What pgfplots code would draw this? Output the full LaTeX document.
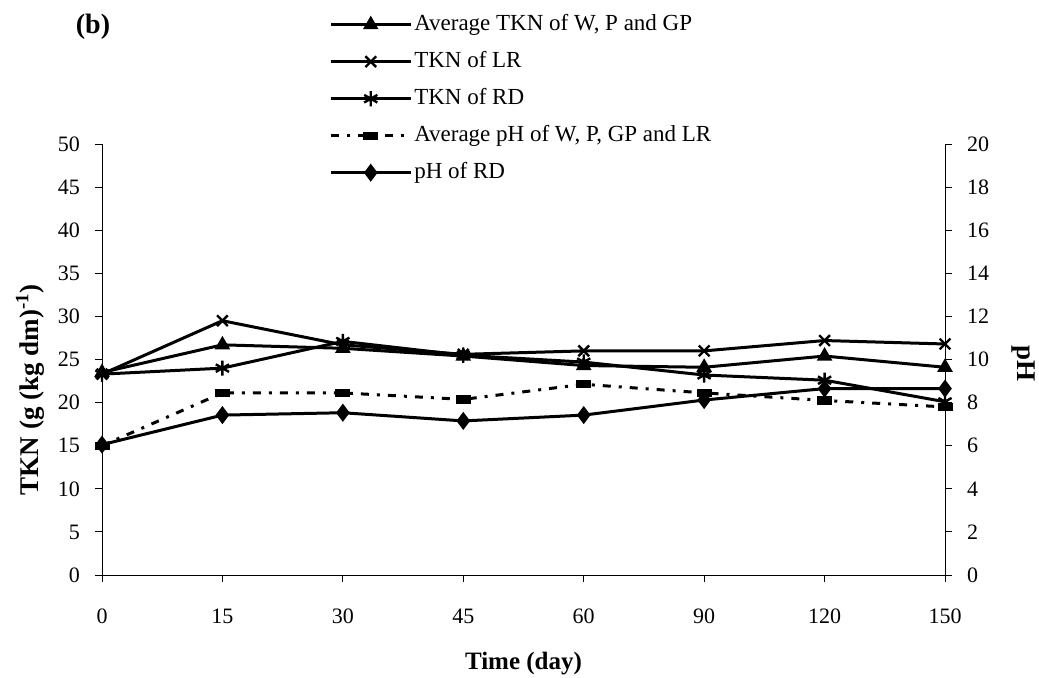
\documentclass[border=0pt]{standalone}
\usepackage{fontspec}
\setmainfont{Liberation Serif}
\usepackage{pgfplots}
\pgfplotsset{compat=1.18}
\pgfplotstableread{
x tkn lr rd phavg phrd
0 23.5 23.3 23.3 6.00 6.05
1 26.7 29.5 24.0 8.45 7.42
2 26.3 26.7 27.1 8.45 7.53
3 25.4 25.6 25.5 8.15 7.15
4 24.3 26.0 24.7 8.85 7.42
5 24.1 26.0 23.2 8.45 8.12
6 25.4 27.2 22.6 8.10 8.65
7 24.1 26.8 20.1 7.80 8.65
}\datatable
\begin{document}
\begin{tikzpicture}[font=\fontsize{11}{13}\selectfont]
\path[use as bounding box] (0,0) rectangle (519.5pt,338.5pt);
\pgfplotsset{
  common/.style={
    at={(51pt,51pt)}, anchor=south west,
    scale only axis, width=421.5pt, height=215.5pt,
    xmin=0, xmax=7, clip=false,
    tick align=outside, major tick length=3.5pt,
    axis line style={-, line width=0.5pt},
    tick style={line width=0.5pt, black},
    /pgf/number format/assume math mode=true,
  },
  lineA/.style={black, line width=1.5pt, mark=triangle*, mark size=3pt, mark options={solid}},
  lineB/.style={black, line width=1.5pt, mark=x, mark size=3.8pt, mark options={solid, line width=1.2pt}},
  lineC/.style={black, line width=1.5pt, mark=asterisk, mark size=3.8pt, mark options={solid, line width=1.2pt}},
  lineD/.style={black, line width=1.5pt, dash pattern=on 4pt off 4pt on 1.5pt off 4pt, mark=square*, mark size=3pt, mark options={solid, yscale=0.45}},
  lineE/.style={black, line width=1.5pt, mark=diamond*, mark size=3.3pt, mark options={solid}},
  legend image code/.code={\draw[mark repeat=2, mark phase=2, #1] plot coordinates {(0pt,0pt) (20pt,0pt) (40pt,0pt)};},
}
\begin{axis}[common,
  axis x line*=bottom, axis y line*=left,
  ymin=0, ymax=50, ytick={0,5,...,50},
  xtick={0,...,7}, xticklabels={0,15,30,45,60,90,120,150},
  xticklabel style={yshift=-10pt},
  yticklabel style={xshift=-4pt},
  xlabel={\textbf{Time (day)}},
  xlabel style={at={(axis description cs:0.5,0)}, anchor=base, yshift=-47pt, font=\fontsize{12.5}{14}\selectfont},
  ylabel={\textbf{TKN (g (kg dm)\textsuperscript{-1})}},
  ylabel style={at={(axis description cs:-0.085,0.43)}, anchor=center, rotate=0, font=\fontsize{13.5}{15}\selectfont},
]
\addplot[lineA] table[x=x, y=tkn] {\datatable};
\addplot[lineB] table[x=x, y=lr] {\datatable};
\addplot[lineC] table[x=x, y=rd] {\datatable};
\end{axis}
\begin{axis}[common,
  axis x line=none, axis y line*=right,
  ymin=0, ymax=20, ytick={0,2,...,20},
  yticklabel style={xshift=4pt},
  ylabel={\textbf{pH}},
  ylabel style={at={(axis description cs:1.093,0.49)}, anchor=center, rotate=180, font=\fontsize{13.5}{15}\selectfont},
  legend style={draw=none, fill=none, at={(axis description cs:0.262,1.316)}, anchor=north west,
    row sep=6pt, cells={anchor=west},
    nodes={inner sep=1pt, text height=8pt, text depth=2.5pt, font=\fontsize{11.5}{13}\selectfont}},
  legend cell align=left,
]
\addlegendimage{lineA}\addlegendentry{Average TKN of W, P and GP}
\addlegendimage{lineB}\addlegendentry{TKN of LR}
\addlegendimage{lineC}\addlegendentry{TKN of RD}
\addplot[lineD] table[x=x, y=phavg] {\datatable};
\addlegendentry{Average pH of W, P, GP and LR}
\addplot[lineE] table[x=x, y=phrd] {\datatable};
\addlegendentry{pH of RD}
\end{axis}
\node[font=\fontsize{14}{16}\bfseries\selectfont] at (46.5pt,325pt) {(b)};
\end{tikzpicture}
\end{document}
